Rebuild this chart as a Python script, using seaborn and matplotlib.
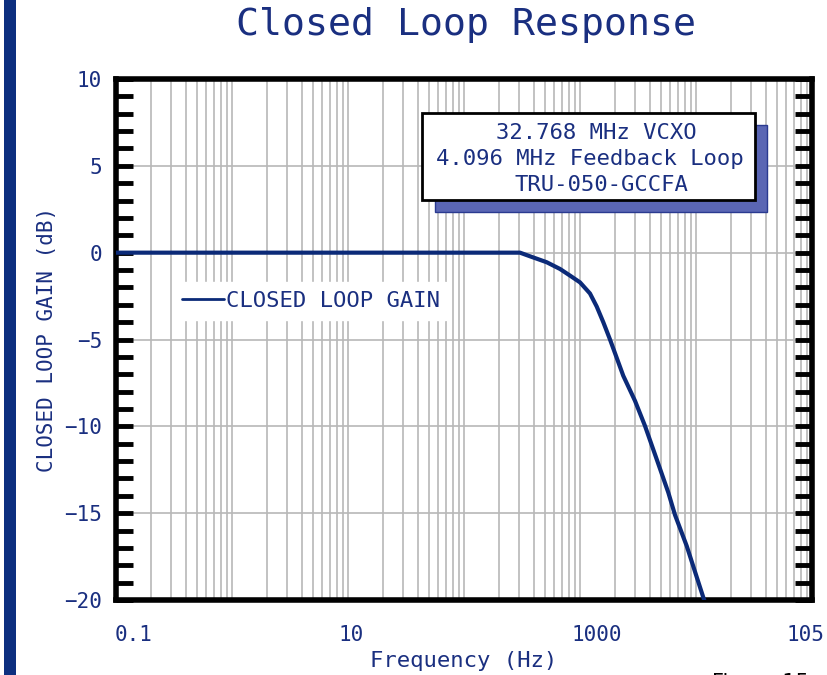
import numpy as np
import pandas as pd
import matplotlib
matplotlib.use("Agg")
import matplotlib.pyplot as plt
import matplotlib.transforms as mtransforms
import seaborn as sns
from matplotlib.patches import Rectangle
from matplotlib.ticker import LogLocator, NullFormatter, FixedLocator, MultipleLocator

# ---- data ----
freq_hz = [0.1, 304, 371, 516, 673, 820, 1000, 1219, 1393, 1589, 1814, 2361,
           2979, 3631, 4580, 5770, 6590, 8318, 11570, 11900]
gain_db = [0.0, 0.0, -0.21, -0.55, -0.94, -1.32, -1.71, -2.35, -3.1, -4.01,
           -5.0, -7.09, -8.53, -9.97, -11.89, -13.81, -15.1, -16.89, -19.86, -20.1]
series_name = "CLOSED LOOP GAIN"
x_tick_values = [0.1, 10, 1000, 100000]
x_tick_labels = ["0.1", "10", "1000", "105"]
y_tick_values = [10, 5, 0, -5, -10, -15, -20]
box_lines = ["32.768 MHz VCXO", "4.096 MHz Feedback Loop", "TRU-050-GCCFA"]

df = pd.DataFrame({"Frequency": freq_hz, "Gain": gain_db, "Series": series_name})

NAVY = "#0b2a78"
TEXT = "#1a2f80"
MONO = ["DejaVu Sans Mono", "DejaVu Sans"]

sns.set_theme(style="white")
plt.rcParams["font.family"] = MONO

fig = plt.figure(figsize=(8.27, 6.75), dpi=100)
ax = fig.add_axes([116/827, 75/675, 696/827, 521/675])

sns.lineplot(data=df, x="Frequency", y="Gain", hue="Series", palette=[NAVY],
             linewidth=3, ax=ax, zorder=3, clip_on=True)

ax.set_xscale("log")
ax.set_xlim(0.1, 1e5)
ax.set_ylim(-20, 10)

# grid
ax.xaxis.set_major_locator(FixedLocator(x_tick_values))
ax.xaxis.set_minor_locator(LogLocator(base=10, subs=np.arange(1, 10), numticks=50))
ax.xaxis.set_minor_formatter(NullFormatter())
ax.set_xticklabels(x_tick_labels)
ax.yaxis.set_major_locator(FixedLocator(y_tick_values))
ax.yaxis.set_minor_locator(MultipleLocator(1))
ax.grid(True, axis="x", which="both", color="#b8b8b8", linewidth=1.2, zorder=0)
ax.grid(True, axis="y", which="major", color="#b8b8b8", linewidth=1.2, zorder=0)
ax.set_axisbelow(True)

ax.tick_params(axis="x", which="both", length=0, pad=18, labelsize=15, labelcolor=TEXT)
ax.tick_params(axis="y", which="both", direction="in", length=12, width=3.5,
               color="black", left=True, right=True, labelsize=15, labelcolor=TEXT, pad=10)

# nudge x tick labels like the reference
offsets_px = [18, 3, 17, -7]
for lab, dx in zip(ax.get_xticklabels(), offsets_px):
    lab.set_transform(lab.get_transform() +
                      mtransforms.ScaledTranslation(dx / 100, 0, fig.dpi_scale_trans))

for s in ax.spines.values():
    s.set_visible(True)
    s.set_color("black")
    s.set_linewidth(4)

ax.set_xlabel("Frequency (Hz)", fontsize=16, color=TEXT, labelpad=4)
ax.set_ylabel("CLOSED LOOP GAIN (dB)", fontsize=15, color=TEXT, labelpad=5)

fig.suptitle("Closed Loop Response", x=0.563, y=0.99, fontsize=27.5, color=TEXT,
             family=MONO)

# legend
leg = ax.legend(loc="upper left", bbox_to_anchor=(0.082, 0.61), borderaxespad=0,
                frameon=True, fontsize=16, handlelength=1.9, handletextpad=0.1,
                borderpad=0.4)
leg.get_frame().set_facecolor("white")
leg.get_frame().set_edgecolor("white")
leg.get_frame().set_alpha(1)
for t in leg.get_texts():
    t.set_color(TEXT)
for h in leg.get_lines():
    h.set_linewidth(2)
leg.set_zorder(5)

# annotation box with shadow
ax.add_patch(Rectangle((0.458, 0.745), 0.478, 0.167, transform=ax.transAxes,
                       facecolor="#5a66b4", edgecolor="#2a3a90", lw=1, zorder=6))
ax.add_patch(Rectangle((0.4397, 0.768), 0.478, 0.167, transform=ax.transAxes,
                       facecolor="white", edgecolor="black", lw=2, zorder=7))
for line, yy, xx in zip(box_lines, [0.896, 0.846, 0.797], [0.690, 0.681, 0.698]):
    ax.text(xx, yy, line, transform=ax.transAxes, ha="center", va="center",
            fontsize=16, color=TEXT, zorder=8)

# left decorative bar
fig.add_artist(Rectangle((4/827, 0), 12/827, 1, transform=fig.transFigure,
                         facecolor="#0d2f7f", edgecolor="none"))
# partially visible figure caption (cut by the bottom edge, as in the reference)
fig.text(712/827, -0.012, "Figure 15", fontsize=15, color="black", va="center",
         family=["DejaVu Sans"])

fig.savefig("out.png", dpi=100)
